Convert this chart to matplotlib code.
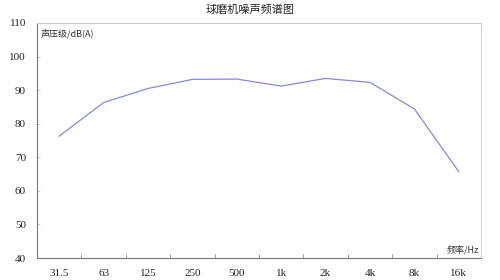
import matplotlib
matplotlib.use("Agg")
import matplotlib.pyplot as plt
import numpy as np

plt.rcParams['font.family'] = ['Noto Sans CJK SC', 'DejaVu Sans']

# octave band centre frequencies and sound pressure level
freqs = ['31.5', '63', '125', '250', '500', '1k', '2k', '4k', '8k', '16k']
spl = [76.3, 86.3, 90.5, 93.2, 93.3, 91.2, 93.5, 92.3, 84.4, 65.7]

fig = plt.figure(figsize=(5, 2.8), dpi=100)
ax = fig.add_axes([37/500, 1-258/280, 444/500, 235/280])

x = np.arange(len(freqs))
ax.plot(x, spl, color='#8888dd', lw=0.9)

ax.set_xlim(-0.5, len(freqs) - 0.5)
ax.set_ylim(40, 110)
ax.set_yticks(np.arange(40, 111, 10))
ax.set_xticks(x)
ax.set_xticklabels(freqs)
ax.set_xticks(np.arange(0.5, len(freqs) - 1, 1), minor=True)
ax.tick_params(axis='x', which='major', length=0, pad=8, labelsize=8, colors='#222222')
ax.tick_params(axis='x', which='minor', direction='in', length=3, color='#888888')
ax.tick_params(axis='y', direction='in', length=2, color='#cccccc', labelsize=8,
               pad=8, labelcolor='#222222')
for lab in ax.get_xticklabels() + ax.get_yticklabels():
    lab.set_family('Liberation Serif')

ax.spines['left'].set_color('#777777')
ax.spines['bottom'].set_color('#777777')
ax.spines['top'].set_color('#d0d0d0')
ax.spines['right'].set_color('#d0d0d0')
for s in ax.spines.values():
    s.set_linewidth(0.8)

ax.text(0.008, 0.975, '声压级/dB(A)', transform=ax.transAxes, ha='left', va='top',
        fontsize=6.5, color='#333333')
ax.text(0.995, 0.015, '频率/Hz', transform=ax.transAxes, ha='right', va='bottom',
        fontsize=6.5, color='#333333')
fig.text(0.5, 1-10/280, '球磨机噪声频谱图', ha='center', va='center', fontsize=8,
         color='#222222')

fig.savefig('out.png', dpi=100)
